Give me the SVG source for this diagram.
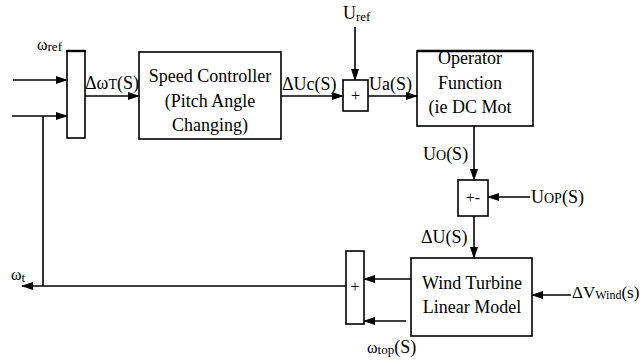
<svg xmlns="http://www.w3.org/2000/svg" width="644" height="361" viewBox="0 0 644 361" font-family="'Liberation Serif', 'DejaVu Serif', serif">
<style>
.box{fill:#fff;stroke:#000;stroke-width:1.6}
.ln{fill:none;stroke:#000;stroke-width:1.6}
.arr{fill:none;stroke:#000;stroke-width:1.6;marker-end:url(#ah)}
text{font-family:'Liberation Serif','DejaVu Serif',serif;fill:#000}
.t{font-size:18px;text-anchor:middle}
.l{font-size:18px}
.s{font-size:13px}
</style>
<defs>
<marker id="ah" markerUnits="userSpaceOnUse" markerWidth="12" markerHeight="8" refX="11" refY="4" orient="auto">
<path d="M0,0 L12,4 L0,8 Z" fill="#000"/>
</marker>
</defs>
<rect width="644" height="361" fill="#fff"/>
<g id="connectors">
<line class="arr" x1="13" y1="80" x2="67" y2="80"/>
<line class="arr" x1="12" y1="116" x2="67" y2="116"/>
<line class="arr" x1="85" y1="96" x2="139" y2="96"/>
<line class="arr" x1="281" y1="96" x2="343" y2="96"/>
<line class="arr" x1="355" y1="27" x2="355" y2="80"/>
<line class="arr" x1="368" y1="96" x2="417" y2="96"/>
<line class="arr" x1="474" y1="126" x2="474" y2="180"/>
<line class="arr" x1="530" y1="197" x2="488" y2="197"/>
<line class="arr" x1="474" y1="216" x2="474" y2="258"/>
<line class="arr" x1="571" y1="295" x2="532" y2="295"/>
<line class="arr" x1="411" y1="279" x2="364" y2="279"/>
<line class="arr" x1="406" y1="321" x2="364" y2="321"/>
<line class="arr" x1="346" y1="286" x2="22" y2="286"/>
<line class="ln" x1="43" y1="116" x2="43" y2="286"/>
</g>
<g id="sum1">
<rect class="box" x="67" y="51" width="18" height="87"/>
<line x1="66" y1="51" x2="86" y2="51" stroke="#000" stroke-width="2.4"/>
</g>
<g id="speed-controller">
<rect class="box" x="139" y="52" width="142" height="87"/>
<text class="t" x="210" y="82">Speed Controller</text>
<text class="t" x="210" y="107">(Pitch Angle</text>
<text class="t" x="210" y="131">Changing)</text>
</g>
<g id="sum2">
<rect class="box" x="343" y="80" width="25" height="31"/>
<text class="t" x="355.5" y="101" style="font-size:16px">+</text>
</g>
<g id="operator-function">
<rect class="box" x="417" y="51" width="116" height="75"/>
<line x1="417" y1="51" x2="533" y2="51" stroke="#000" stroke-width="2.4"/>
<text class="t" x="470" y="64">Operator</text>
<text class="t" x="470" y="89">Function</text>
<text class="t" x="470" y="113">(ie DC Mot</text>
</g>
<g id="sum3">
<rect class="box" x="458" y="180" width="30" height="36"/>
<text class="t" x="473" y="203" style="font-size:16px">+-</text>
</g>
<g id="wind-turbine">
<rect class="box" x="411" y="258" width="121" height="78"/>
<text class="t" x="472" y="289">Wind Turbine</text>
<text class="t" x="472" y="313">Linear Model</text>
</g>
<g id="sum4">
<rect class="box" x="346" y="251" width="18" height="73"/>
<text class="t" x="355" y="292" style="font-size:16px">+</text>
</g>
<g id="labels">
<text x="37" y="50" style="font-size:16px">ω<tspan class="s" dy="1">ref</tspan></text>
<text class="l" x="85" y="89">Δω<tspan class="s" style="font-size:14px">T</tspan>(S)</text>
<text class="l" x="282" y="90">ΔUc(S)</text>
<text class="l" x="343" y="19">U<tspan class="s" dy="2">ref</tspan></text>
<text class="l" x="369" y="90">Ua(S)</text>
<text class="l" x="423" y="160">U<tspan class="s" style="font-size:14px">O</tspan>(S)</text>
<text class="l" x="531" y="203">U<tspan class="s" style="font-size:14px">OP</tspan>(S)</text>
<text class="l" x="421" y="243">ΔU(S)</text>
<text class="l" x="572" y="298" style="font-size:17px">ΔV<tspan class="s" style="font-size:12px" dy="1">Wind</tspan><tspan dy="-1">(s)</tspan></text>
<text x="367" y="353" style="font-size:16px">ω<tspan class="s" dy="1">top</tspan><tspan dy="-1" style="font-size:18px">(S)</tspan></text>
<text x="11" y="280" style="font-size:16px">ω<tspan class="s" dy="2">t</tspan></text>
</g>
</svg>
